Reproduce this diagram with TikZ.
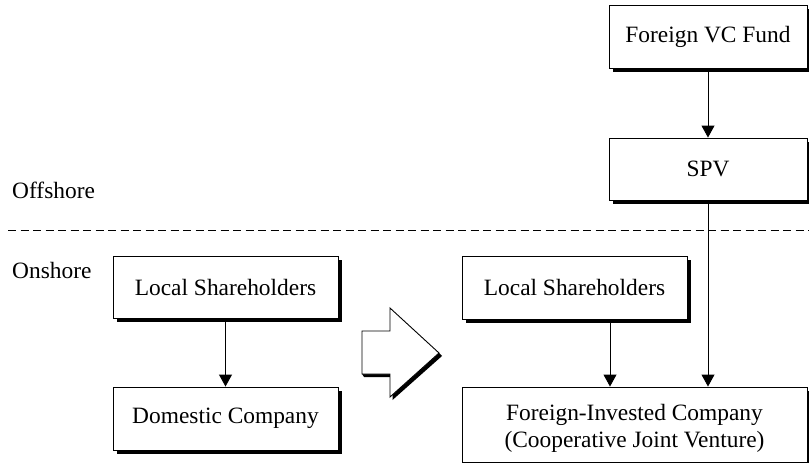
\documentclass[tikz,border=0pt]{standalone}
\usepackage{fontspec}
\setmainfont{Liberation Serif}
\usetikzlibrary{arrows.meta}
\begin{document}
\begin{tikzpicture}[x=1pt,y=-1pt,
  font=\fontsize{23.4}{27}\selectfont,
  shadowbox/.style={draw=black,line width=0.9pt,fill=white,rectangle,inner sep=0pt,align=center},
  conn/.style={line width=0.9pt,-{Triangle[length=12pt,width=13pt]}},
  lbl/.style={anchor=west,inner sep=0pt}]
\useasboundingbox (0,0) rectangle (809,463);
% shadows
\foreach \a/\b/\c/\d in {609/5/807/68, 609/138/807/200, 113/256/338/318, 113/387/338/450, 462/256/687/319, 462/387/807/462}{
  \fill[black] (\a+3.5,\b+3.5) rectangle (\c+3.5,\d+3.5);
}
\node[shadowbox,minimum width=198pt,minimum height=63pt] (fund) at (708,36.5) {Foreign VC Fund};
\node[shadowbox,minimum width=198pt,minimum height=62pt] (spv) at (708,169) {SPV};
\node[shadowbox,minimum width=225pt,minimum height=62pt] (ls1) at (225.5,287) {Local Shareholders};
\node[shadowbox,minimum width=225pt,minimum height=63pt] (dom) at (225.5,418.5) {Domestic Company};
\node[shadowbox,minimum width=225pt,minimum height=63pt] (ls2) at (574.5,287.5) {Local Shareholders};
\node[shadowbox,minimum width=345pt,minimum height=75pt] (fic) at (634.5,424.5) {};
\node (fict) at (634.5,428) [align=center,inner sep=0pt] {Foreign-Invested Company\\[0pt](Cooperative Joint Venture)};
\node[lbl] (off) at (12,190) {Offshore};
\node[lbl] (on) at (12,270) {Onshore};
\coordinate (dl) at (8,230);
\coordinate (dr) at (809,230);
\draw[line width=0.9pt,dash pattern=on 8pt off 4.5pt] (dl) -- (dr);
% connectors
\draw[conn] (fund.south) -- (spv.north);
\draw[conn] (ls1.south) -- (dom.north);
\draw[conn] (ls2.south -| 610,0) -- (fic.north -| 610,0);
\draw[conn] (spv.south) -- (fic.north -| spv.south);
% block arrow
\fill[black] (364,377) -- (392.5,377) -- (392.5,400) -- (442,356) -- (439,353) -- (390,397) -- (390,374) -- (362,374) -- cycle;
\draw[line width=0.9pt,fill=white,line join=miter] (362,331) -- (390,331) -- (390,308) -- (439,353) -- (390,397) -- (390,374) -- (362,374) -- cycle;
\end{tikzpicture}
\end{document}
